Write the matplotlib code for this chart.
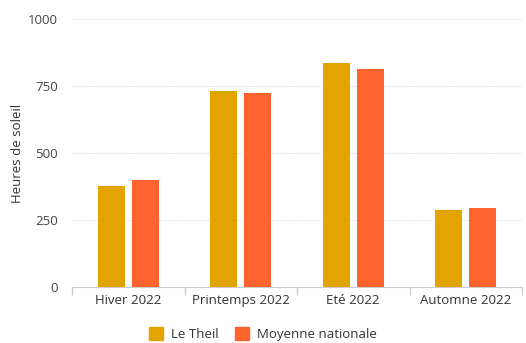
import matplotlib
matplotlib.use("Agg")
import matplotlib.pyplot as plt
import numpy as np
from matplotlib.patches import Patch

categories = ["Hiver 2022", "Printemps 2022", "Eté 2022", "Automne 2022"]
le_theil = [377, 731, 836, 287]
moyenne = [399, 724, 813, 295]
series_names = ["Le Theil", "Moyenne nationale"]
yticks = [0, 250, 500, 750, 1000]

c1, c2 = "#E3A400", "#FF632E"
plt.rcParams['font.family'] = ['Open Sans', 'DejaVu Sans']

fig = plt.figure(figsize=(5.26, 3.43), dpi=100)
ax = fig.add_axes([72/526, 1-287/343, 450/526, 268/343])
x = np.arange(len(categories))
w = 0.24
ax.bar(x - 0.15, le_theil, w, color=c1, zorder=3)
ax.bar(x + 0.15, moyenne, w, color=c2, zorder=3)
ax.set_xlim(-0.5, len(categories) - 0.5)
ax.set_ylim(0, 1000)
ax.set_yticks(yticks)
ax.set_yticklabels([str(v) for v in yticks], fontsize=9.5, color="#444444")
ax.tick_params(axis='y', length=0, pad=10)
ax.set_xticks(x)
ax.set_xticklabels(categories, fontsize=9.5, color="#333333")
ax.tick_params(axis='x', length=0, pad=5)
ax.set_xticks(np.arange(-0.5, len(categories)), minor=True)
ax.tick_params(axis='x', which='minor', length=6, color="#cccccc", width=1)
ax.grid(axis='y', color="#dddddd", linestyle=(0, (1, 1)), linewidth=0.8, zorder=0)
for s in ["top", "right", "left"]:
    ax.spines[s].set_visible(False)
ax.spines["bottom"].set_color("#cccccc")
ax.set_ylabel("Heures de soleil", fontsize=9.5, color="#333333", labelpad=3)

handles = [Patch(color=c1), Patch(color=c2)]
fig.legend(handles, series_names, loc="center", bbox_to_anchor=(0.5, 1-334/343), ncol=2,
           frameon=False, fontsize=9.5, handlelength=1.1, handleheight=1.1,
           handletextpad=0.6, columnspacing=1.2, labelcolor="#333333")
fig.savefig("out.png", dpi=100)
